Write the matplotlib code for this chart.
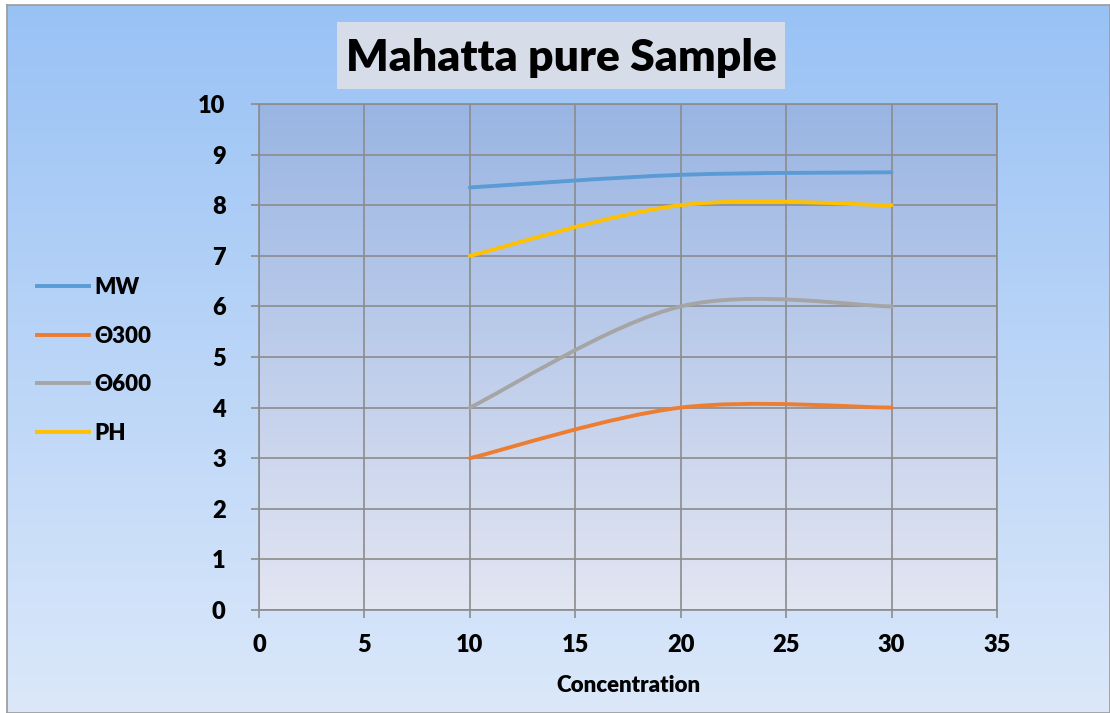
import numpy as np
import matplotlib
matplotlib.use("Agg")
import matplotlib.pyplot as plt
from matplotlib.path import Path
from matplotlib.patches import PathPatch, Rectangle
from matplotlib.colors import LinearSegmentedColormap
from matplotlib.lines import Line2D

plt.rcParams['font.family'] = ['Lato', 'DejaVu Sans']

# ---- data ----
concentration = [10, 20, 30]
mw = [8.35, 8.6, 8.65]
theta300 = [3, 4, 4]
theta600 = [4, 6, 6]
ph = [7, 8, 8]
series_names = ['MW', 'Θ300', 'Θ600', 'PH']
series_colors = ['#5B9BD5', '#ED7D31', '#A5A5A5', '#FFC000']
x_ticks = [0, 5, 10, 15, 20, 25, 30, 35]
y_ticks = list(range(0, 11))
title = 'Mahatta pure Sample'
x_label = 'Concentration'

W, H = 1110, 713
fig = plt.figure(figsize=(W / 100, H / 100), dpi=100)
fig.patch.set_facecolor('white')

# figure background gradient (chart area)
bg = fig.add_axes([7 / W, 0, 1 - 7 / W, 1 - 5 / H], zorder=-10)
bg_cmap = LinearSegmentedColormap.from_list('bg', [(0.60, 0.76, 0.96), (0.86, 0.91, 0.98)])
bg.imshow(np.linspace(0, 1, 256).reshape(-1, 1), aspect='auto', cmap=bg_cmap,
          extent=[0, 1, 0, 1], origin='upper')
bg.set_xlim(0, 1); bg.set_ylim(0, 1)
bg.set_xticks([]); bg.set_yticks([])
for s in bg.spines.values():
    s.set_color('#9a9a9a'); s.set_linewidth(1.2)

ax = fig.add_axes([259 / W, 1 - 610 / H, (997 - 259) / W, (610 - 104) / H], zorder=1)
ax.set_xlim(0, 35)
ax.set_ylim(0, 10)
pa_cmap = LinearSegmentedColormap.from_list('pa', [(0.60, 0.71, 0.89), (0.89, 0.90, 0.95)])
ax.imshow(np.linspace(0, 1, 256).reshape(-1, 1), aspect='auto', cmap=pa_cmap,
          extent=[0, 35, 0, 10], origin='upper', zorder=0)
ax.set_facecolor('none')

tick_font = dict(fontsize=17, fontweight='heavy')
ax.set_xticks(x_ticks, labels=[str(v) for v in x_ticks], **tick_font)
ax.set_yticks(y_ticks, labels=[str(v) for v in y_ticks], **tick_font)
ax.grid(True, color='#8c8c8c', linewidth=1.2, zorder=1)
ax.set_axisbelow(False)
for name, s in ax.spines.items():
    s.set_color('#8c8c8c'); s.set_linewidth(1.2)
ax.tick_params(axis='both', direction='out', length=6, width=1.2, color='#8c8c8c')
ax.tick_params(axis='x', pad=11)
ax.tick_params(axis='y', pad=18)


def smooth_path(xs, ys):
    pts = np.column_stack([xs, ys]).astype(float)
    n = len(pts)
    verts = [pts[0]]
    codes = [Path.MOVETO]
    for i in range(n - 1):
        p0 = pts[max(i - 1, 0)]
        p1 = pts[i]
        p2 = pts[i + 1]
        p3 = pts[min(i + 2, n - 1)]
        c1 = p1 + (p2 - p0) / 6.0
        c2 = p2 - (p3 - p1) / 6.0
        verts += [c1, c2, p2]
        codes += [Path.CURVE4] * 3
    return Path(verts, codes)


all_series = [mw, theta300, theta600, ph]
for vals, col in zip(all_series, series_colors):
    patch = PathPatch(smooth_path(concentration, vals), facecolor='none', edgecolor=col,
                      linewidth=2.8, capstyle='round', zorder=3)
    ax.add_patch(patch)

ax.set_xlabel(x_label, fontsize=16, fontweight='heavy', labelpad=14)

# title box
fig.patches.append(Rectangle((337 / W, 1 - 89 / H), (785 - 337) / W, (89 - 22) / H,
                             transform=fig.transFigure, facecolor='#d6dde8',
                             edgecolor='none', zorder=2))
fig.text(561 / W, 1 - 58 / H, title, ha='center', va='center', fontsize=32,
         fontweight='heavy', zorder=3)

# legend
handles = [Line2D([0], [0], color=c, linewidth=2.8) for c in series_colors]
leg = fig.legend(handles, series_names, loc='upper left',
                 bbox_to_anchor=(17 / W, 1 - 257 / H), frameon=False,
                 prop={'weight': 'heavy', 'size': 16}, handlelength=2.35,
                 handletextpad=0.25, labelspacing=1.24)

fig.savefig('out.png', dpi=100)
